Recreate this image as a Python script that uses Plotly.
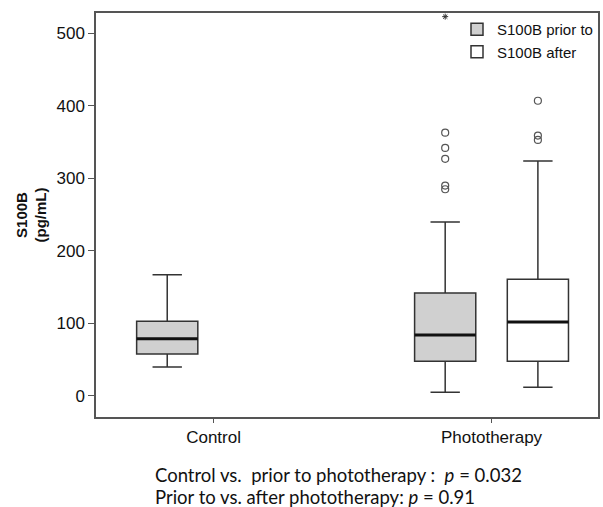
import plotly.graph_objects as go

groups = ["Control", "Phototherapy"]

# S100B prior to phototherapy (Control group / Phototherapy group)
prior_q1 = [58, 48]
prior_median = [79, 84]
prior_q3 = [103, 142]
prior_low = [40, 5]
prior_high = [167, 240]
prior_outliers = [[], [363, 342, 327, 290, 285]]
prior_extreme = [523]

# S100B after phototherapy
after_groups = ["Phototherapy"]
after_q1 = [48]
after_median = [102]
after_q3 = [161]
after_low = [12]
after_high = [324]
after_outliers = [[407, 359, 353]]

FONT = "Liberation Sans"
line_col = "#333333"
marker_style = dict(symbol="circle-open", size=7, color="#555555", line=dict(width=1.2))
fig = go.Figure()

for i, g in enumerate(groups):
    if prior_outliers[i]:
        kw = dict(y=[prior_outliers[i]], boxpoints="outliers", pointpos=0, jitter=0)
    else:
        kw = dict(boxpoints=False)
    fig.add_trace(go.Box(
        name="S100B prior to", x=[g],
        q1=[prior_q1[i]], median=[prior_median[i]], q3=[prior_q3[i]],
        lowerfence=[prior_low[i]], upperfence=[prior_high[i]],
        offsetgroup="prior", legendgroup="prior", showlegend=(i == 0),
        fillcolor="#d0d0d0", line=dict(color=line_col, width=1.5),
        whiskerwidth=0.48, marker=marker_style, **kw,
    ))
fig.add_trace(go.Box(
    name="S100B after", x=after_groups, y=after_outliers,
    q1=after_q1, median=after_median, q3=after_q3,
    lowerfence=after_low, upperfence=after_high,
    offsetgroup="after", boxpoints="outliers", pointpos=0, jitter=0,
    fillcolor="#ffffff", line=dict(color=line_col, width=1.5),
    whiskerwidth=0.48, marker=marker_style,
))

# thick median lines drawn on top (zero-height boxes at the medians)
def median_overlay(xs, meds, group):
    fig.add_trace(go.Box(
        x=xs, q1=meds, median=meds, q3=meds, lowerfence=meds, upperfence=meds,
        offsetgroup=group, boxpoints=False, whiskerwidth=0,
        fillcolor="rgba(0,0,0,0)", line=dict(color="#111111", width=3),
        showlegend=False, hoverinfo="skip",
    ))

median_overlay(groups, prior_median, "prior")
median_overlay(after_groups, after_median, "after")

# extreme value (asterisk), shares the position of the "prior" box
fig.add_trace(go.Box(
    name="extreme", x=["Phototherapy"], y=[prior_extreme],
    q1=[prior_q3[1]], median=[prior_q3[1]], q3=[prior_q3[1]],
    lowerfence=[prior_q3[1]], upperfence=[prior_q3[1]],
    offsetgroup="prior", boxpoints="outliers", pointpos=0, jitter=0,
    fillcolor="rgba(0,0,0,0)", line=dict(color="rgba(0,0,0,0)", width=0),
    marker=dict(symbol="asterisk-open", size=5, color="#333333", line=dict(width=1, color="#333333")),
    showlegend=False, hoverinfo="skip",
))

fig.update_layout(
    width=603, height=507,
    margin=dict(l=96, r=3, t=13, b=90),
    paper_bgcolor="white", plot_bgcolor="white",
    boxmode="group", boxgap=0.333, boxgroupgap=0.34,
    font=dict(family=FONT, color="#111111"),
    showlegend=True,
    legend=dict(x=1, y=1, xanchor="right", yanchor="top",
                bgcolor="rgba(255,255,255,0)", font=dict(family=FONT, size=15, color="#111111"),
                tracegroupgap=0, borderwidth=0),
    xaxis=dict(
        type="category", categoryorder="array", categoryarray=groups,
        range=[-0.423, 1.383],
        showline=True, linecolor="#555555", linewidth=1.5, mirror=True,
        ticks="outside", ticklen=4, tickcolor="#555555",
        tickfont=dict(family=FONT, size=17, color="#111111"), showgrid=False, zeroline=False,
    ),
    yaxis=dict(
        range=[-29, 528], tickvals=[0, 100, 200, 300, 400, 500],
        showline=True, linecolor="#555555", linewidth=1.5, mirror=True,
        ticks="outside", ticklen=6, tickcolor="#555555",
        tickfont=dict(family=FONT, size=17, color="#111111"), showgrid=False, zeroline=False,
        title=dict(text="<b>S100B<br>(pg/mL)</b>", font=dict(family=FONT, size=15, color="#111111"), standoff=6),
    ),
)

fig.add_annotation(
    text="Control vs.  prior to phototherapy :  <i>p</i> = 0.032",
    xref="paper", yref="paper", x=(153 - 96) / 504, y=-(475 - 417) / 404,
    xanchor="left", yanchor="middle", showarrow=False,
    font=dict(family="Lato", size=18.5, color="#111111"),
)
fig.add_annotation(
    text="Prior to vs. after phototherapy: <i>p</i> = 0.91",
    xref="paper", yref="paper", x=(153 - 96) / 504, y=-(497 - 417) / 404,
    xanchor="left", yanchor="middle", showarrow=False,
    font=dict(family="Lato", size=18.5, color="#111111"),
)

fig.write_html("out.html")
